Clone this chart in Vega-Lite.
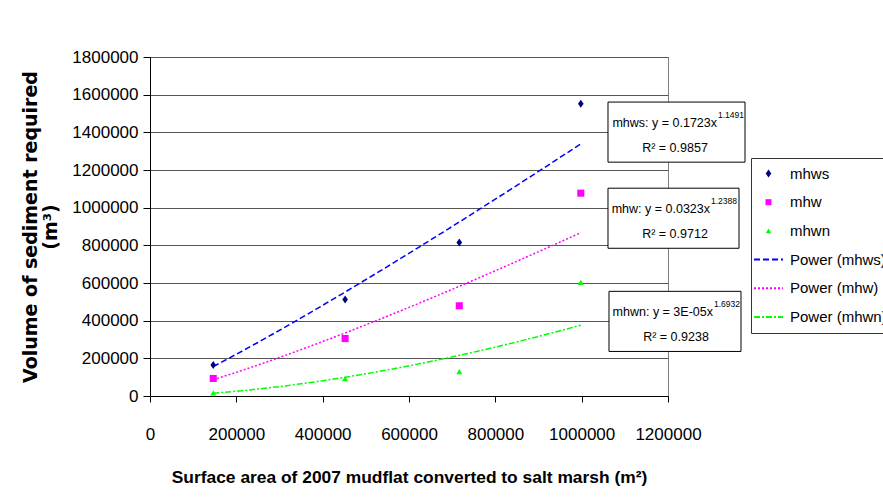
{
  "$schema": "https://vega.github.io/schema/vega-lite/v6.json",
  "width": 518,
  "height": 339,
  "autosize": {"type": "none"},
  "padding": {"left": 150, "top": 57, "right": 215, "bottom": 107},
  "background": "white",
  "config": {
    "view": {"stroke": "#808080", "strokeWidth": 1},
    "font": "Liberation Sans",
    "numberFormat": "d",
    "axisX": {"tickCount": 7, "labelOverlap": false, "labelFlush": false},
    "axisY": {"tickCount": 10, "labelOverlap": false, "labelFlush": false}
  },
  "datasets": {
    "points": [
      {"series": "mhws", "trend": "Power (mhws)", "area": 146500, "volume": 165000},
      {"series": "mhws", "trend": "Power (mhws)", "area": 452000, "volume": 512000},
      {"series": "mhws", "trend": "Power (mhws)", "area": 716500, "volume": 815000},
      {"series": "mhws", "trend": "Power (mhws)", "area": 998000, "volume": 1552000},
      {"series": "mhw", "trend": "Power (mhw)", "area": 146500, "volume": 93000},
      {"series": "mhw", "trend": "Power (mhw)", "area": 452000, "volume": 305000},
      {"series": "mhw", "trend": "Power (mhw)", "area": 716500, "volume": 479000},
      {"series": "mhw", "trend": "Power (mhw)", "area": 998000, "volume": 1077000},
      {"series": "mhwn", "trend": "Power (mhwn)", "area": 146500, "volume": 17000},
      {"series": "mhwn", "trend": "Power (mhwn)", "area": 452000, "volume": 92000},
      {"series": "mhwn", "trend": "Power (mhwn)", "area": 716500, "volume": 129000},
      {"series": "mhwn", "trend": "Power (mhwn)", "area": 998000, "volume": 603000}
    ],
    "boxes": [
      {"series": "mhws", "x1": 1061000, "x2": 1378400, "y1": 1560700, "y2": 1241600, "xe": 1313500, "eq": "mhws: y = 0.1723x", "exp": "1.1491", "r2": "R² = 0.9857"},
      {"series": "mhw", "x1": 1061000, "x2": 1364500, "y1": 1103400, "y2": 784400, "xe": 1297300, "eq": "mhw: y = 0.0323x", "exp": "1.2388", "r2": "R² = 0.9712"},
      {"series": "mhwn", "x1": 1063300, "x2": 1369100, "y1": 555700, "y2": 236600, "xe": 1304200, "eq": "mhwn: y = 3E-05x", "exp": "1.6932", "r2": "R² = 0.9238"}
    ]
  },
  "layer": [
    {
      "data": {"name": "points"},
      "transform": [{"regression": "volume", "on": "area", "method": "pow", "groupby": ["trend"]}],
      "mark": {"type": "line", "strokeWidth": 1.5},
      "encoding": {
        "x": {
          "field": "area", "type": "quantitative",
          "scale": {"domain": [0, 1200000], "nice": false, "zero": true},
          "axis": {
            "title": "Surface area of 2007 mudflat converted to salt marsh (m²)",
            "values": [0, 200000, 400000, 600000, 800000, 1000000, 1200000],
            "tickCount": 7,
            "grid": false,
            "domainColor": "#000", "domainWidth": 1,
            "tickColor": "#000", "tickSize": 6,
            "labelFont": "Liberation Sans", "labelFontSize": 17, "labelColor": "#000",
            "labelPadding": 24, "labelFlush": false, "labelOverlap": false,
            "titleFont": "Liberation Sans", "titleFontSize": 17.4, "titleFontWeight": "bold", "titleColor": "#000",
            "titlePadding": 26
          }
        },
        "y": {
          "field": "volume", "type": "quantitative",
          "scale": {"domain": [0, 1800000], "nice": false, "zero": true},
          "axis": {
            "title": ["Volume of sediment required", "(m³)"],
            "values": [0, 200000, 400000, 600000, 800000, 1000000, 1200000, 1400000, 1600000, 1800000],
            "tickCount": 10,
            "grid": true, "gridColor": "#555", "gridWidth": 1,
            "domainColor": "#000", "domainWidth": 1,
            "tickColor": "#000", "tickSize": 7,
            "labelFont": "Liberation Sans", "labelFontSize": 17, "labelColor": "#000",
            "labelPadding": 5, "labelFlush": false, "labelOverlap": false,
            "titleFont": "DejaVu Sans", "titleFontSize": 19, "titleFontWeight": "bold", "titleColor": "#000",
            "titleLineHeight": 20, "titlePadding": 11
          }
        },
        "color": {
          "field": "trend", "type": "nominal",
          "scale": {
            "domain": ["mhws", "mhw", "mhwn", "Power (mhws)", "Power (mhw)", "Power (mhwn)"],
            "range": ["#000080", "#FF00FF", "#00FF00", "#0000FF", "#FF00FF", "#00FF00"]
          },
          "legend": {
            "title": null,
            "orient": "none",
            "legendX": 601,
            "legendY": 101,
            "fillColor": "white",
            "strokeColor": "#333",
            "padding": 8,
            "labelFont": "Liberation Sans",
            "labelFontSize": 15,
            "labelColor": "#000",
            "labelOffset": 14,
            "symbolOffset": 2,
            "labelLimit": 300,
            "symbolSize": 841,
            "rowPadding": 12.7,
            "encode": {
              "symbols": {
                "update": {
                  "shape": {"signal": "datum.value==='mhws' ? 'M0,-1L0.7,0L0,1L-0.7,0Z' : datum.value==='mhw' ? 'square' : datum.value==='mhwn' ? 'triangle-up' : 'stroke'"},
                  "size": {"signal": "datum.value==='mhws' ? 64 : datum.value==='mhw' ? 36 : datum.value==='mhwn' ? 30 : 841"},
                  "fill": {"signal": "indexof(['mhws','mhw','mhwn'], datum.value) >= 0 ? scale('color', datum.value) : 'transparent'"},
                  "stroke": {"signal": "scale('color', datum.value)"},
                  "strokeWidth": {"signal": "indexof(['mhws','mhw','mhwn'], datum.value) >= 0 ? 0 : 2"},
                  "strokeDash": {"signal": "datum.value==='Power (mhws)' ? [6,3] : datum.value==='Power (mhw)' ? [2,2] : datum.value==='Power (mhwn)' ? [6,2,2,2] : [1,0]"},
                  "opacity": {"value": 1}
                }
              }
            }
          }
        },
        "strokeDash": {
          "field": "trend", "type": "nominal",
          "scale": {"domain": ["Power (mhws)", "Power (mhw)", "Power (mhwn)"], "range": [[6, 3], [2, 2], [6, 2, 2, 2]]},
          "legend": null
        }
      }
    },
    {
      "data": {"name": "points"},
      "mark": {"type": "point", "filled": true, "opacity": 1},
      "encoding": {
        "x": {"field": "area", "type": "quantitative", "scale": {"domain": [0, 1200000], "nice": false}},
        "y": {"field": "volume", "type": "quantitative", "scale": {"domain": [0, 1800000], "nice": false}},
        "color": {
          "field": "series", "type": "nominal",
          "scale": {
            "domain": ["mhws", "mhw", "mhwn", "Power (mhws)", "Power (mhw)", "Power (mhwn)"],
            "range": ["#000080", "#FF00FF", "#00FF00", "#0000FF", "#FF00FF", "#00FF00"]
          },
          "legend": null
        },
        "shape": {
          "field": "series", "type": "nominal",
          "scale": {"domain": ["mhws", "mhw", "mhwn"], "range": ["M0,-1L0.7,0L0,1L-0.7,0Z", "square", "triangle-up"]},
          "legend": null
        },
        "size": {
          "field": "series", "type": "nominal",
          "scale": {"domain": ["mhws", "mhw", "mhwn"], "range": [64, 36, 30]},
          "legend": null
        }
      }
    },
    {
      "data": {"name": "boxes"},
      "mark": {"type": "rect", "fill": "white", "stroke": "#000", "strokeWidth": 1},
      "encoding": {
        "x": {"field": "x1", "type": "quantitative", "scale": {"domain": [0, 1200000], "nice": false}},
        "x2": {"field": "x2"},
        "y": {"field": "y1", "type": "quantitative", "scale": {"domain": [0, 1800000], "nice": false}},
        "y2": {"field": "y2"}
      }
    },
    {
      "data": {"name": "boxes"},
      "mark": {"type": "text", "align": "right", "baseline": "middle", "dy": 21, "font": "Liberation Sans", "fontSize": 12.5, "color": "#000"},
      "encoding": {
        "x": {"field": "xe", "type": "quantitative", "scale": {"domain": [0, 1200000], "nice": false}},
        "y": {"field": "y1", "type": "quantitative", "scale": {"domain": [0, 1800000], "nice": false}},
        "text": {"field": "eq"}
      }
    },
    {
      "data": {"name": "boxes"},
      "mark": {"type": "text", "align": "left", "baseline": "middle", "dx": 1, "dy": 13, "font": "Liberation Sans", "fontSize": 8.5, "color": "#000"},
      "encoding": {
        "x": {"field": "xe", "type": "quantitative", "scale": {"domain": [0, 1200000], "nice": false}},
        "y": {"field": "y1", "type": "quantitative", "scale": {"domain": [0, 1800000], "nice": false}},
        "text": {"field": "exp"}
      }
    },
    {
      "data": {"name": "boxes"},
      "mark": {"type": "text", "align": "center", "baseline": "middle", "dx": 67, "dy": 46, "font": "Liberation Sans", "fontSize": 12.5, "color": "#000"},
      "encoding": {
        "x": {"field": "x1", "type": "quantitative", "scale": {"domain": [0, 1200000], "nice": false}},
        "y": {"field": "y1", "type": "quantitative", "scale": {"domain": [0, 1800000], "nice": false}},
        "text": {"field": "r2"}
      }
    }
  ]
}
